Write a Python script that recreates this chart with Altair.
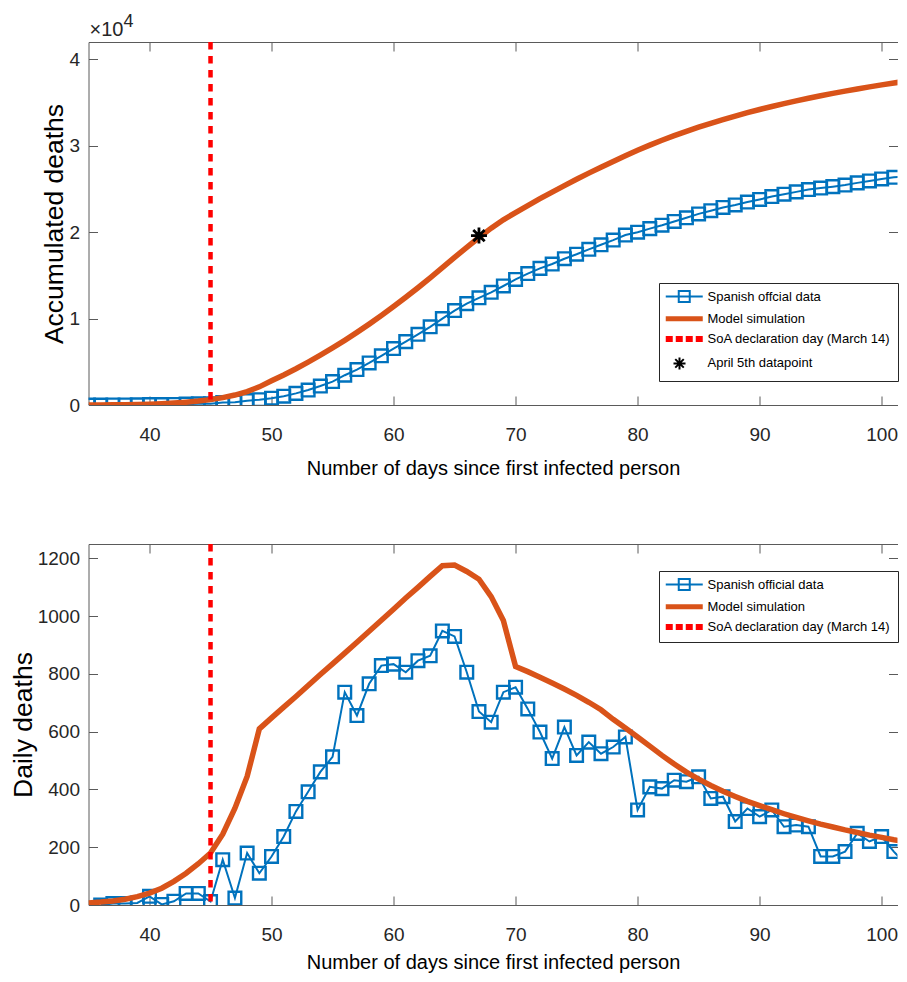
import altair as alt
import pandas as pd

# ---------------- data ----------------
days_accum = list(range(35, 103))
official_accum = [0, 0, 5, 10, 17, 47, 50, 65, 100, 135,
                  150, 300, 325, 505, 615, 785, 1020, 1345, 1735, 2195,
                  2710, 3445, 4100, 4865, 5695, 6530, 7335, 8180, 9045, 9995,
                  10925, 11730, 12400, 13035, 13770, 14525, 15205, 15805, 16310, 16925,
                  17445, 18010, 18535, 19080, 19665, 19995, 20405, 20805, 21240, 21665,
                  22110, 22480, 22855, 23145, 23480, 23785, 24115, 24385, 24660, 24930,
                  25100, 25265, 25450, 25700, 25920, 26155, 26340, 26480]
model_accum = [0, 10, 20, 35, 60, 95, 150, 225, 325, 455,
               620, 850, 1150, 1560, 2100, 2800, 3480, 4200, 4960, 5760,
               6600, 7480, 8400, 9360, 10360, 11390, 12460, 13570, 14720, 15900,
               17080, 18240, 19380, 20460, 21430, 22270, 23080, 23870, 24640, 25390,
               26120, 26830, 27510, 28180, 28840, 29480, 30070, 30630, 31160, 31660,
               32140, 32590, 33020, 33430, 33820, 34190, 34540, 34870, 35190, 35490,
               35780, 36060, 36320, 36570, 36810, 37040, 37260, 37470]

days_daily = list(range(36, 103))
official_daily = [0, 5, 5, 7, 30, 2, 13, 40, 40, 12,
                  157, 24, 180, 110, 168, 237, 324, 392, 461, 513,
                  737, 656, 766, 829, 834, 806, 846, 863, 949, 930,
                  806, 670, 633, 737, 754, 679, 599, 507, 616, 518,
                  564, 524, 547, 582, 329, 409, 403, 432, 427, 444,
                  369, 375, 289, 334, 306, 329, 271, 277, 271, 168,
                  168, 185, 248, 220, 237, 185, 140]
days_model_daily = list(range(35, 103))
model_daily = [7, 10, 14, 20, 29, 41, 58, 82, 110, 143,
               180, 245, 335, 445, 610, 648, 685, 722, 760, 798,
               835, 872, 910, 948, 986, 1024, 1063, 1100, 1138, 1175,
               1177, 1155, 1128, 1068, 985, 826, 808, 789, 769, 748,
               726, 702, 676, 643, 613, 582, 550, 518, 488, 460,
               436, 414, 394, 376, 359, 344, 330, 316, 303, 291,
               280, 270, 260, 251, 242, 234, 226, 219]

soa_day = [45]
april5_day = [67]
april5_value = [19600]

x_ticks = [40, 50, 60, 70, 80, 90, 100]
top_y_ticks = [0, 10000, 20000, 30000, 40000]
bottom_y_ticks = [0, 200, 400, 600, 800, 1000, 1200]

top_legend = ["Spanish offcial data", "Model simulation",
              "SoA declaration day (March 14)", "April 5th datapoint"]
bottom_legend = ["Spanish official data", "Model simulation",
                 "SoA declaration day (March 14)"]
exponent_text = ["\u00d710", "4"]

X_TITLE = "Number of days since first infected person"

# ---------------- style ----------------
FONT = "Liberation Sans"
BLUE = "#0072BD"
ORANGE = "#D95319"
RED = "#FF0000"
BLACK = "#000000"
AX = "#5a5a5a"
TXT = "#262626"
W = 809
X_DOMAIN = [35, 101.3]

STAR = "M0,-1V1M-1,0H1M-0.71,-0.71L0.71,0.71M-0.71,0.71L0.71,-0.71"
LEG_BLUE = "M-1.35,0H6.05M1.25,-1.1H3.45V1.1H1.25Z"
LEG_ORANGE = "M-1.35,-0.3H6.05M-1.35,0H6.05M-1.35,0.3H6.05"


def _dashes():
    segs = [(-1.35, 0.05), (0.65, 2.05), (2.65, 4.05), (4.65, 6.05)]
    p = ""
    for a, b in segs:
        for yy in (-0.4, 0, 0.4):
            p += f"M{a},{yy}H{b}"
    return p


LEG_RED = _dashes()
LEG_STAR = "M1.4,-1.2V1.2M0.2,0H2.6M0.55,-0.85L2.25,0.85M0.55,0.85L2.25,-0.85"


def make_panel(days_obs, obs, days_mod, mod, y_max, y_ticks, y_title,
               labels, legend_y, H, title_pad, label_expr=None, star=False):
    xs = alt.Scale(domain=X_DOMAIN, nice=False, zero=False)
    ys = alt.Scale(domain=[0, y_max], nice=False, zero=False)

    lab_x = alt.Axis(orient="bottom", values=x_ticks, ticks=False, tickSize=0,
                     domain=True, domainColor=AX, labelFont=FONT, labelFontSize=19,
                     labelColor=TXT, labelPadding=20, labelFlush=False,
                     labelOverlap=False, grid=False, title=X_TITLE, titleFont=FONT,
                     titleFontSize=20, titleFontWeight="normal", titleColor="#000000",
                     titlePadding=title_pad)
    tick_xb = alt.Axis(orient="top", offset=-H, values=x_ticks, ticks=True,
                       tickSize=9, tickColor=AX, labels=False, domain=False,
                       grid=False, title=None)
    tick_xt = alt.Axis(orient="bottom", offset=-H, values=x_ticks, ticks=True,
                       tickSize=9, tickColor=AX, labels=False, domain=True,
                       domainColor=AX, grid=False, title=None)
    ykw = dict(orient="left", values=y_ticks, ticks=False, tickSize=0, domain=True,
               domainColor=AX, labelFont=FONT, labelFontSize=19, labelColor=TXT,
               labelPadding=9, labelFlush=False, labelOverlap=False, grid=False,
               format="d", title=y_title, titleFont=FONT, titleFontSize=26.5,
               titleFontWeight="normal", titleColor="#000000", titlePadding=0)
    if label_expr:
        ykw["labelExpr"] = label_expr
    lab_y = alt.Axis(**ykw)
    tick_yl = alt.Axis(orient="right", offset=-W, values=y_ticks, ticks=True,
                       tickSize=9, tickColor=AX, labels=False, domain=False,
                       grid=False, title=None)
    tick_yr = alt.Axis(orient="left", offset=-W, values=y_ticks, ticks=True,
                       tickSize=9, tickColor=AX, labels=False, domain=False,
                       grid=False, title=None)

    obs_df = pd.DataFrame({"day": days_obs, "value": obs})
    mod_df = pd.DataFrame({"day": days_mod, "value": mod})

    l_line = alt.Chart(obs_df).mark_line(color=BLUE, strokeWidth=2, clip=True).encode(
        x=alt.X("day:Q", scale=xs, axis=lab_x),
        y=alt.Y("value:Q", scale=ys, axis=lab_y))
    l_pts = alt.Chart(obs_df).mark_point(shape="square", filled=False, size=160,
                                         strokeWidth=2.4, color=BLUE, opacity=1,
                                         clip=True).encode(
        x=alt.X("day:Q", scale=xs, axis=tick_xb),
        y=alt.Y("value:Q", scale=ys, axis=tick_yl))
    l_mod = alt.Chart(mod_df).mark_line(color=ORANGE, strokeWidth=5.5, clip=True).encode(
        x=alt.X("day:Q", scale=xs, axis=tick_xt),
        y=alt.Y("value:Q", scale=ys, axis=tick_yr))
    l_soa = alt.Chart(pd.DataFrame({"day": soa_day})).mark_rule(
        color=RED, strokeWidth=4.5, strokeDash=[7.5, 6.5]).encode(
        x=alt.X("day:Q", scale=xs, axis=None))
    layers = [l_line, l_pts, l_mod, l_soa]
    if star:
        l_star = alt.Chart(pd.DataFrame({"day": april5_day, "value": april5_value})).mark_point(
            shape=STAR, size=256, filled=False, strokeWidth=2.8, color=BLACK,
            opacity=1).encode(
            x=alt.X("day:Q", scale=xs, axis=None),
            y=alt.Y("value:Q", scale=ys, axis=None))
        layers.append(l_star)

    colors = [BLUE, ORANGE, RED, BLACK][:len(labels)]
    paths = [LEG_BLUE, LEG_ORANGE, LEG_RED, LEG_STAR][:len(labels)]
    leg = alt.Legend(title=None, orient="none", legendX=570.5, legendY=legend_y,
                     padding=7, strokeColor=TXT, fillColor="white",
                     labelFont=FONT, labelFontSize=13, labelColor="#000000",
                     labelLimit=400, labelOffset=28.5, rowPadding=6.3,
                     symbolSize=100, symbolStrokeWidth=2, symbolOpacity=1,
                     symbolFillColor="transparent")
    l_leg = alt.Chart(pd.DataFrame({"series": labels})).transform_calculate(
        day="130", value="0").mark_point(filled=False, opacity=1, strokeWidth=2,
                                         clip=True).encode(
        x=alt.X("day:Q", scale=xs, axis=None),
        y=alt.Y("value:Q", scale=ys, axis=None),
        color=alt.Color("series:N", scale=alt.Scale(domain=labels, range=colors),
                        legend=leg),
        shape=alt.Shape("series:N", scale=alt.Scale(domain=labels, range=paths),
                        legend=leg))
    layers.append(l_leg)

    if star:
        t1 = alt.Chart(pd.DataFrame({"t": [exponent_text[0]]})).mark_text(
            align="left", baseline="alphabetic", font=FONT, fontSize=20,
            color=TXT).encode(text="t:N", x=alt.value(1), y=alt.value(-6))
        t2 = alt.Chart(pd.DataFrame({"t": [exponent_text[1]]})).mark_text(
            align="left", baseline="alphabetic", font=FONT, fontSize=18,
            color=TXT).encode(text="t:N", x=alt.value(35), y=alt.value(-15))
        layers += [t1, t2]

    return alt.layer(*layers).resolve_axis(x="independent", y="independent").properties(
        width=W, height=H)


top = make_panel(days_accum, official_accum, days_accum, model_accum, 42000,
                 top_y_ticks, "Accumulated deaths", top_legend, 241, 363, 14,
                 label_expr="datum.value / 10000", star=True)
bottom = make_panel(days_daily, official_daily, days_model_daily, model_daily, 1250,
                    bottom_y_ticks, "Daily deaths", bottom_legend, 27, 361, 8.3)

chart = alt.vconcat(top, bottom, spacing=63).resolve_scale(
    color="independent", shape="independent", x="independent", y="independent"
).configure_view(stroke=None).properties(
    padding={"left": 1.5, "top": 5, "right": 0, "bottom": 0},
    background="white")

chart.save("out.html", embed_options={"renderer": "svg", "actions": False})
